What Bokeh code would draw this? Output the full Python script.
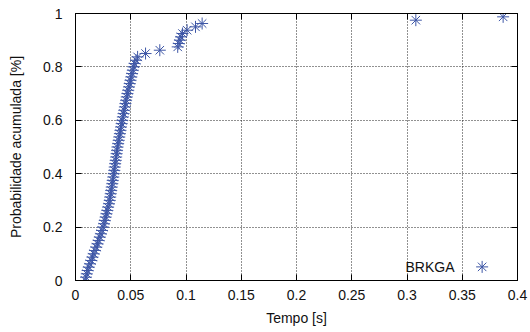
from bokeh.plotting import figure
from bokeh.models import Range1d, FixedTicker, LinearAxis, Label
from bokeh.embed import file_html
from bokeh.resources import INLINE

# ECDF of BRKGA run times (seconds)
times = [0.0089, 0.0095, 0.0102, 0.0110, 0.0120, 0.0131, 0.0143, 0.0154, 0.0165, 0.0176,
         0.0188, 0.0199, 0.0210, 0.0220, 0.0230, 0.0240, 0.0250, 0.0258, 0.0265, 0.0273,
         0.0280, 0.0288, 0.0295, 0.0303, 0.0310, 0.0314, 0.0319, 0.0323, 0.0328, 0.0333,
         0.0337, 0.0342, 0.0347, 0.0351, 0.0355, 0.0359, 0.0364, 0.0368, 0.0372, 0.0376,
         0.0380, 0.0386, 0.0391, 0.0396, 0.0402, 0.0407, 0.0412, 0.0418, 0.0423, 0.0429,
         0.0435, 0.0441, 0.0447, 0.0452, 0.0458, 0.0464, 0.0470, 0.0477, 0.0484, 0.0491,
         0.0498, 0.0505, 0.0512, 0.0519, 0.0526, 0.0535, 0.0548, 0.0562, 0.0634, 0.0763,
         0.0925, 0.0935, 0.0945, 0.0955, 0.0968, 0.1010, 0.1086, 0.1146, 0.3080, 0.3870]
prob = [0.0, 0.0125, 0.025, 0.0375, 0.05, 0.0625, 0.075, 0.0875, 0.1, 0.1125,
        0.125, 0.1375, 0.15, 0.1625, 0.175, 0.1875, 0.2, 0.2125, 0.225, 0.2375,
        0.25, 0.2625, 0.275, 0.2875, 0.3, 0.3125, 0.325, 0.3375, 0.35, 0.3625,
        0.375, 0.3875, 0.4, 0.4125, 0.425, 0.4375, 0.45, 0.4625, 0.475, 0.4875,
        0.5, 0.5125, 0.525, 0.5375, 0.55, 0.5625, 0.575, 0.5875, 0.6, 0.6125,
        0.625, 0.6375, 0.65, 0.6625, 0.675, 0.6875, 0.7, 0.7125, 0.725, 0.7375,
        0.75, 0.7625, 0.775, 0.7875, 0.8, 0.8125, 0.825, 0.8375, 0.85, 0.8625,
        0.875, 0.8875, 0.9, 0.9125, 0.925, 0.9375, 0.95, 0.9625, 0.975, 0.9875]

x_ticks = [0, 0.05, 0.1, 0.15, 0.2, 0.25, 0.3, 0.35, 0.4]
x_tick_labels = ["0", "0.05", "0.1", "0.15", "0.2", "0.25", "0.3", "0.35", "0.4"]
y_ticks = [0, 0.2, 0.4, 0.6, 0.8, 1.0]
y_tick_labels = ["0", "0.2", "0.4", "0.6", "0.8", "1"]

series_name = "BRKGA"
legend_text_x, legend_marker_x, legend_y = 0.343, 0.368, 0.051

COLOR = "#3d56a6"
FONT = "Liberation Sans"
FS = "14px"

p = figure(width=530, height=332, output_backend="svg", toolbar_location=None,
           x_range=Range1d(0, 0.4), y_range=Range1d(0, 1),
           min_border_left=75, min_border_right=13, min_border_top=13, min_border_bottom=52)
p.outline_line_color = "black"
p.outline_line_width = 1
p.background_fill_color = "white"
p.border_fill_color = "white"

for ax, ticks, labels in ((p.xaxis[0], x_ticks, x_tick_labels), (p.yaxis[0], y_ticks, y_tick_labels)):
    ax.ticker = FixedTicker(ticks=ticks)
    ax.major_label_overrides = {t: l for t, l in zip(ticks, labels)}
    ax.major_tick_in = 6
    ax.major_tick_out = 0
    ax.minor_tick_line_color = None
    ax.axis_line_color = "black"
    ax.major_tick_line_color = "black"
    ax.major_label_text_font = FONT
    ax.major_label_text_font_size = FS
    ax.major_label_text_color = "#111111"
    ax.axis_label_text_font = FONT
    ax.axis_label_text_font_size = FS
    ax.axis_label_text_font_style = "normal"
    ax.axis_label_text_color = "#111111"

p.xaxis.axis_label = "Tempo [s]"
p.yaxis.axis_label = "Probabilidade acumulada [%]"
p.xaxis.major_label_standoff = 9
p.xaxis.axis_label_standoff = 7
p.yaxis.major_label_standoff = 13
p.yaxis.axis_label_standoff = 16

# mirrored ticks on top and right (no labels)
for side, ticks in (("above", x_ticks), ("right", y_ticks)):
    ax = LinearAxis(ticker=FixedTicker(ticks=ticks))
    ax.major_tick_in = 6
    ax.major_tick_out = 0
    ax.minor_tick_line_color = None
    ax.major_label_overrides = {t: "" for t in ticks}
    ax.major_label_text_font_size = "1px"
    ax.major_label_standoff = 0
    ax.axis_line_color = "black"
    p.add_layout(ax, side)

p.xgrid.ticker = FixedTicker(ticks=x_ticks)
p.ygrid.ticker = FixedTicker(ticks=y_ticks)
for g in (p.xgrid[0], p.ygrid[0]):
    g.grid_line_color = "#222222"
    g.grid_line_dash = "1 2"
    g.grid_line_width = 1

p.scatter(times, prob, marker="cross", size=12, line_color=COLOR, line_width=1)
p.scatter(times, prob, marker="x", size=12, line_color=COLOR, line_width=1)

# legend (gnuplot style: text then sample)
p.add_layout(Label(x=legend_text_x, y=legend_y, text=series_name, text_align="right",
                   text_baseline="middle", text_font=FONT, text_font_size=FS,
                   text_color="#111111"))
p.scatter([legend_marker_x], [legend_y], marker="cross", size=12, line_color=COLOR, line_width=1)
p.scatter([legend_marker_x], [legend_y], marker="x", size=12, line_color=COLOR, line_width=1)

open("out.html", "w").write(file_html(p, INLINE))
